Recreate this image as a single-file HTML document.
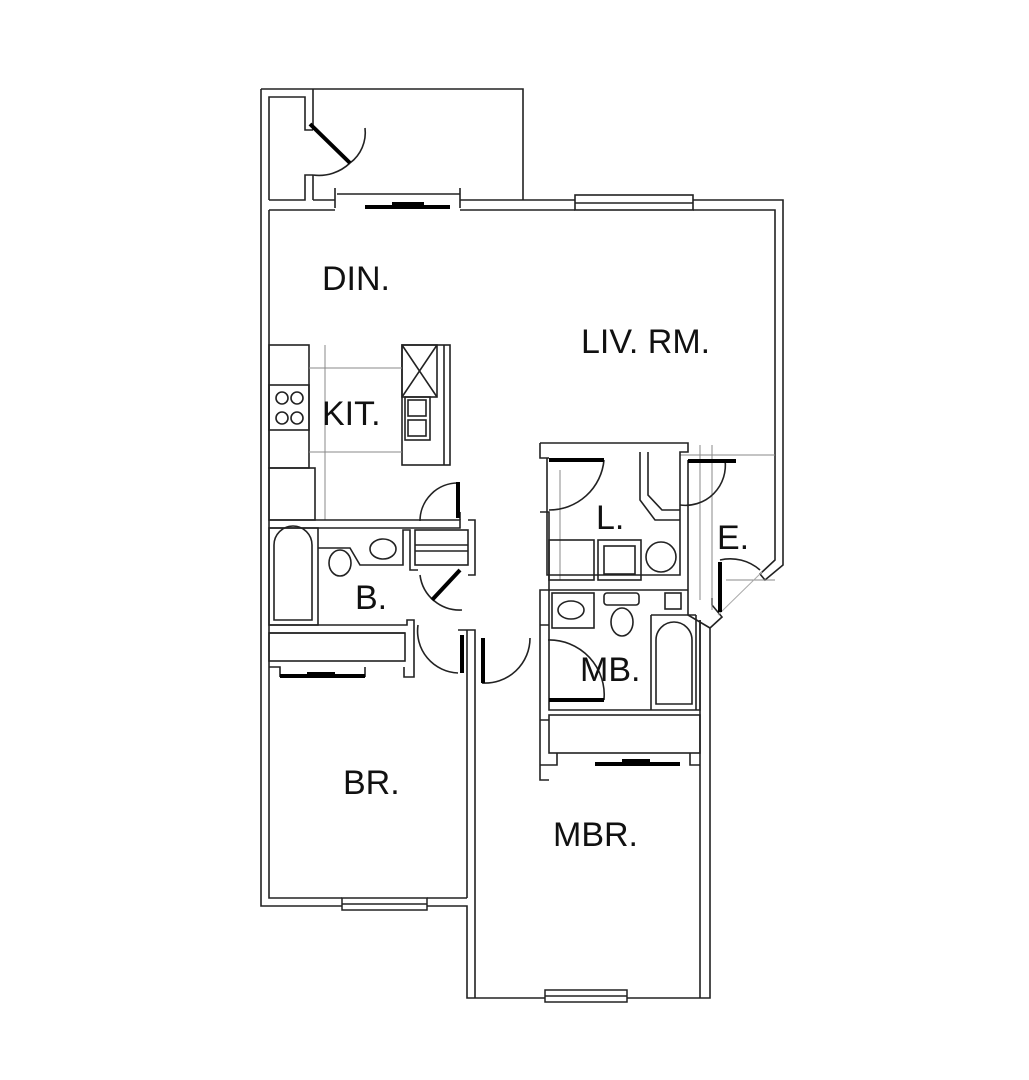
<!DOCTYPE html>
<html><head><style>html,body{margin:0;padding:0;background:#fff}svg{display:block}text{font-family:"Liberation Sans",Arial,sans-serif;font-size:34px;fill:#111}</style></head>
<body>
<svg width="1029" height="1080" viewBox="0 0 1029 1080" xmlns="http://www.w3.org/2000/svg">
<g fill="none" stroke="#222" stroke-width="1.6">
<path d="M261 89 H523 V200"/>
<path d="M261 89 V906 H342 M427 906 H467 V998 H545 M627 998 H710 V628 L722 617 L712 605 L712 598"/>
<path d="M269 210 V898 H342 M427 898 H467"/>
<path d="M269 200 V97 H305 V130 H313 M313 175 H305 V200 H269"/>
<path d="M313 89 V130 M313 175 V200"/>
<path d="M350 163 A38 38 0 0 0 365 128"/>
<path d="M313 175 A45 45 0 0 0 350 163"/>
<path d="M313 200 H335 M460 200 H575 M693 200 H783 V565 L765 580 L760 574 L775 560 V210 H693 M575 210 H460 M335 210 H269"/>
<rect x="575" y="195" width="118" height="15"/>
<line x1="575" y1="203" x2="693" y2="203"/>
<line x1="337" y1="194" x2="460" y2="194"/>
<line x1="335" y1="188" x2="335" y2="208"/>
<line x1="460" y1="188" x2="460" y2="208"/>
<rect x="269" y="345" width="40" height="123"/>
<rect x="269" y="385" width="40" height="45"/>
<circle cx="282" cy="398" r="6"/><circle cx="297" cy="398" r="6"/><circle cx="282" cy="418" r="6"/><circle cx="297" cy="418" r="6"/>
<rect x="269" y="468" width="46" height="52"/>
<rect x="402" y="345" width="48" height="120"/>
<line x1="444" y1="345" x2="444" y2="465"/>
<rect x="402" y="345" width="35" height="52"/>
<path d="M402 345 L437 397 M437 345 L402 397"/>
<rect x="405" y="397" width="25" height="43"/>
<rect x="408" y="400" width="18" height="16"/><rect x="408" y="420" width="18" height="16"/>
</g>
<g fill="none" stroke="#888" stroke-width="1">
<path d="M325 345 V520 M309 368 H402 M309 452 H402"/>
<path d="M560 470 V580 M680 455 H775 M712 445 V610 M726 580 H775 M700 445 V600"/>
</g>
<g fill="none" stroke="#222" stroke-width="1.6">
<path d="M269 520 H460 V528 H269"/>
<path d="M460 520 V512 M468 520 H475 V575 H468"/>
<rect x="269" y="528" width="49" height="97"/>
<path d="M274 620 V545 A18 18 0 0 1 312 545 V620 Z"/>
<path d="M318 548 H350 L360 565 H403 V530 H410 V570 H418"/>
<ellipse cx="340" cy="563" rx="11" ry="13"/>
<ellipse cx="383" cy="549" rx="13" ry="10"/>
<rect x="415" y="530" width="53" height="35"/>
<line x1="415" y1="545" x2="468" y2="545"/><line x1="415" y1="551" x2="468" y2="551"/>
<path d="M269 625 H407 V620 H414 V677 H404 V667 M269 633 H405"/>
<rect x="269" y="633" width="136" height="28"/>
<path d="M269 667 H280 V677 M365 677 V667"/>
<path d="M458 483 A38 38 0 0 0 420 521"/>
<path d="M420 575 A40 40 0 0 0 462 610"/>
<path d="M418 625 A42 42 0 0 0 458 673"/>
<path d="M482 683 A45 45 0 0 0 530 638"/>
<path d="M458 630 H475 V998 M467 630 V898"/>
<path d="M540 443 H688 V452 H680 V460 M540 443 V458 H549 M547 458 V575 H680 V455 M640 452 V500 L655 520 H680"/>
<path d="M648 452 V495 L662 510 H680"/>
<path d="M540 512 H549 V590 H540 V625 H549 M540 625 V780 H549 M540 720 V765"/>
<rect x="549" y="540" width="45" height="40"/>
<rect x="598" y="540" width="43" height="40"/>
<rect x="604" y="546" width="31" height="28"/>
<circle cx="661" cy="557" r="15"/>
<path d="M549 590 H688 V600 M688 460 V615 L710 628"/>
<path d="M549 590 V710 H700 V620"/>
<rect x="552" y="593" width="42" height="35"/>
<ellipse cx="571" cy="610" rx="13" ry="9"/>
<rect x="604" y="593" width="35" height="12" rx="3"/>
<ellipse cx="622" cy="622" rx="11" ry="14"/>
<rect x="665" y="593" width="16" height="16"/>
<path d="M651 615 V710 M696 615 V710 M651 615 H696"/>
<path d="M656 704 V640 A18 18 0 0 1 692 640 V704 Z"/>
<rect x="549" y="715" width="151" height="38"/>
<path d="M540 720 H549 M540 765 H557 V753 M540 765 H548 M690 753 V765 H700 M700 620 V998"/>
<path d="M604 460 A55 55 0 0 1 549 510"/>
<path d="M725 460 A40 40 0 0 1 680 505"/>
<path d="M548 640 A55 55 0 0 1 604 700"/>
<path d="M720 560 A45 45 0 0 1 760 570"/>
<path d="M718 615 L762 572" stroke="#aaa" stroke-width="1"/>
</g>
<g stroke="#000" stroke-width="4" fill="none">
<line x1="310" y1="124" x2="350" y2="163"/>
<line x1="458" y1="482" x2="458" y2="518"/>
<line x1="432" y1="600" x2="460" y2="570"/>
<line x1="462" y1="635" x2="462" y2="673"/>
<line x1="483" y1="638" x2="483" y2="683"/>
<line x1="549" y1="460" x2="604" y2="460"/>
<line x1="688" y1="461" x2="736" y2="461"/>
<line x1="720" y1="562" x2="720" y2="612"/>
<line x1="549" y1="700" x2="604" y2="700"/>
</g>
<g fill="#000">
<rect x="365" y="205" width="85" height="4"/><rect x="392" y="202" width="32" height="5"/>
<rect x="280" y="674" width="85" height="4"/><rect x="307" y="672" width="28" height="5"/>
<rect x="595" y="762" width="85" height="4"/><rect x="622" y="759" width="28" height="5"/>
</g>
<g fill="none" stroke="#222" stroke-width="1.5">
<rect x="342" y="898" width="85" height="12"/><line x1="342" y1="904" x2="427" y2="904"/>
<rect x="545" y="990" width="82" height="12"/><line x1="545" y1="996" x2="627" y2="996"/>
</g>
<text x="322" y="290">DIN.</text>
<text x="581" y="353">LIV. RM.</text>
<text x="322" y="425">KIT.</text>
<text x="355" y="609">B.</text>
<text x="596" y="529">L.</text>
<text x="717" y="549">E.</text>
<text x="580" y="681">MB.</text>
<text x="343" y="794">BR.</text>
<text x="553" y="846">MBR.</text>
</svg>
</body></html>
